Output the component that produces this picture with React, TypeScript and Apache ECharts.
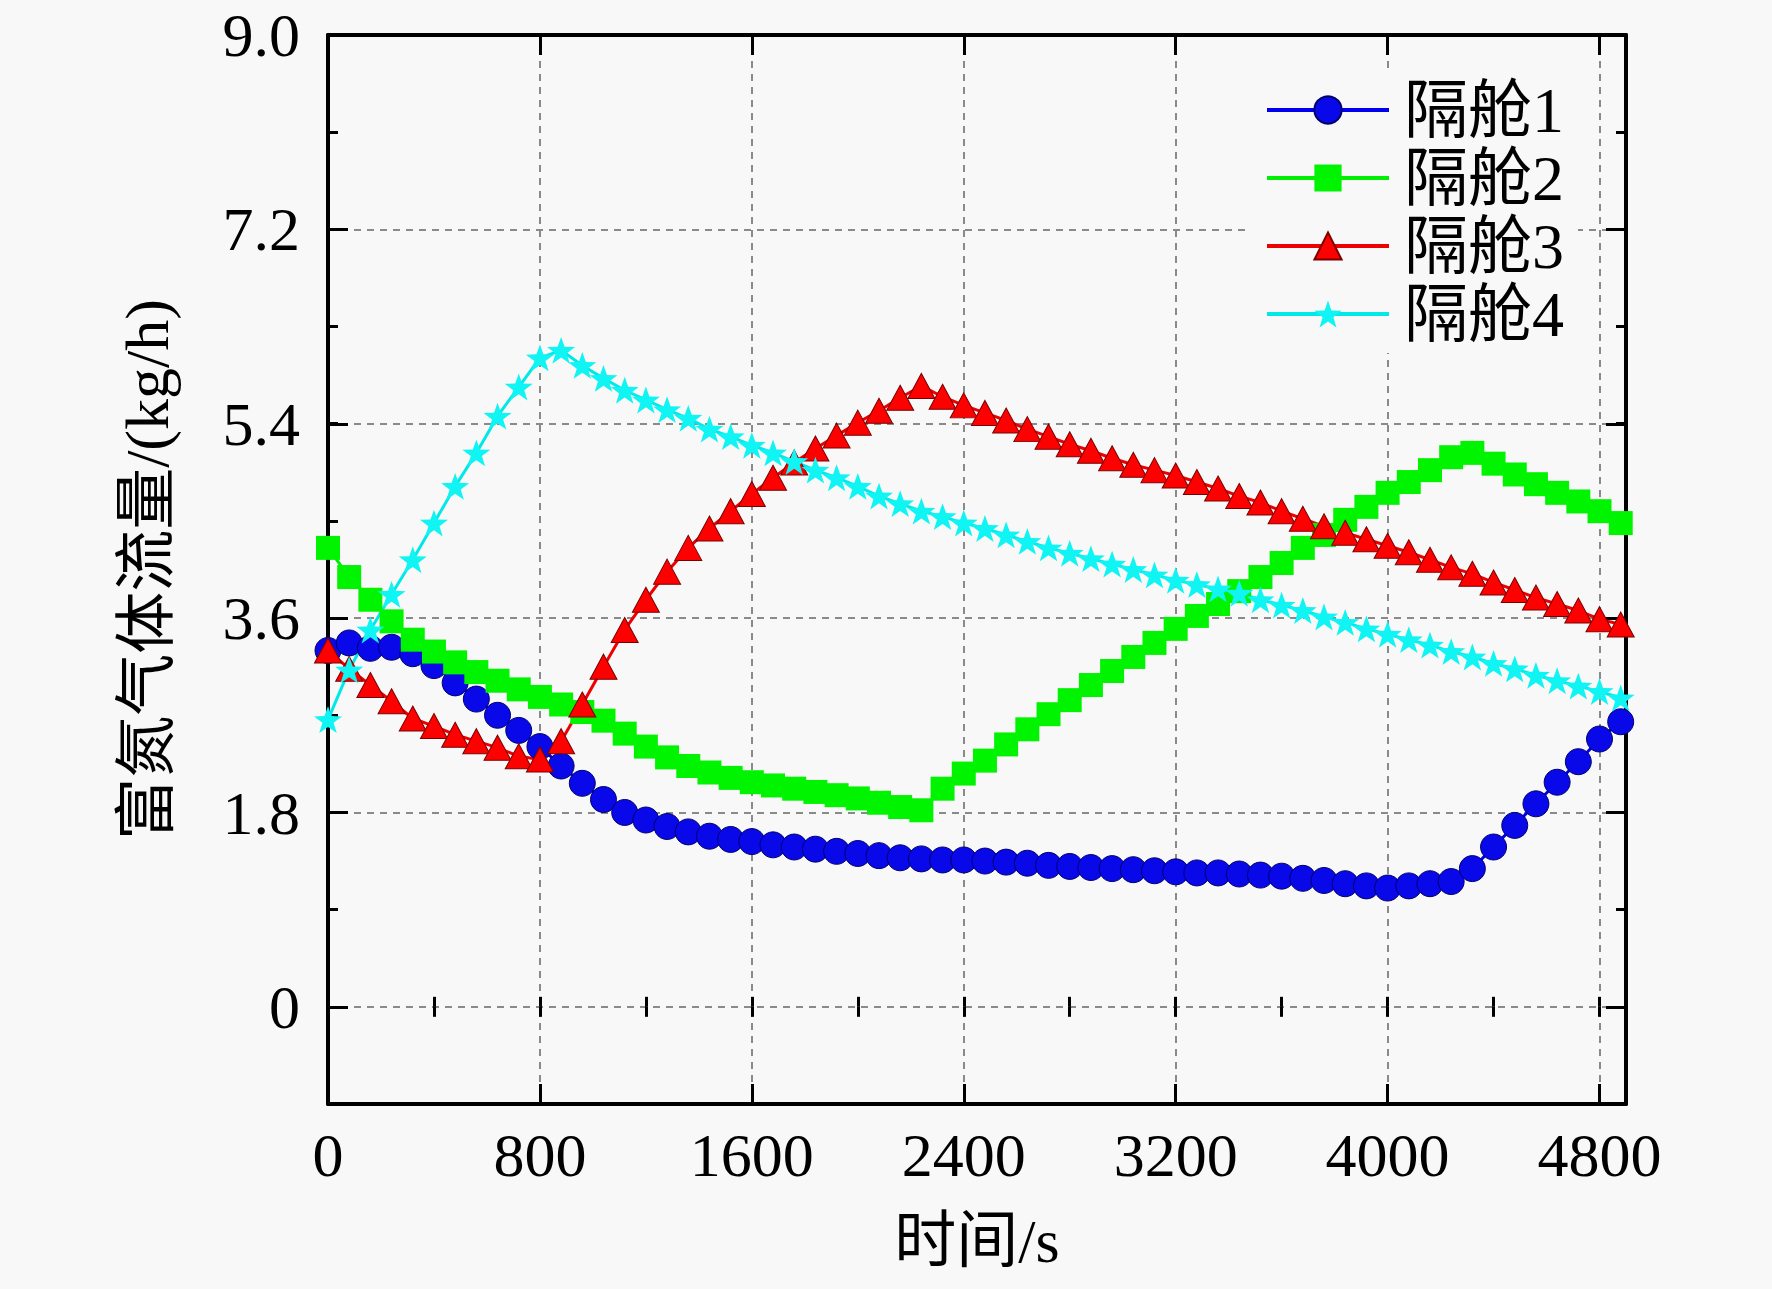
import React, { useEffect, useRef } from "react";
import * as echarts from "echarts";

// sample times (s) and the four compartment flows (kg/h)
const times = [
  0, 80, 160, 240, 320, 400, 480, 560, 640, 720, 800, 880, 960, 1040, 1120, 1200,
  1280, 1360, 1440, 1520, 1600, 1680, 1760, 1840, 1920, 2000, 2080, 2160, 2240,
  2320, 2400, 2480, 2560, 2640, 2720, 2800, 2880, 2960, 3040, 3120, 3200, 3280,
  3360, 3440, 3520, 3600, 3680, 3760, 3840, 3920, 4000, 4080, 4160, 4240, 4320,
  4400, 4480, 4560, 4640, 4720, 4800, 4880,
];

const cabin1 = [
  3.30, 3.37, 3.32, 3.33, 3.27, 3.16, 3.00, 2.85, 2.70, 2.56, 2.41, 2.23, 2.07, 1.92,
  1.80, 1.73, 1.67, 1.62, 1.58, 1.55, 1.53, 1.50, 1.48, 1.46, 1.44, 1.42, 1.40, 1.38,
  1.37, 1.36, 1.36, 1.35, 1.34, 1.33, 1.31, 1.30, 1.29, 1.28, 1.27, 1.26, 1.25, 1.24,
  1.24, 1.23, 1.22, 1.21, 1.19, 1.17, 1.14, 1.12, 1.10, 1.12, 1.14, 1.16, 1.28, 1.48,
  1.68, 1.88, 2.08, 2.27, 2.48, 2.64,
];

const cabin2 = [
  4.25, 3.98, 3.77, 3.57, 3.40, 3.29, 3.19, 3.10, 3.02, 2.94, 2.87, 2.80, 2.73, 2.65,
  2.53, 2.41, 2.31, 2.23, 2.17, 2.12, 2.08, 2.05, 2.02, 1.99, 1.96, 1.93, 1.89, 1.85,
  1.82, 2.02, 2.16, 2.28, 2.43, 2.57, 2.71, 2.84, 2.98, 3.11, 3.24, 3.37, 3.50, 3.62,
  3.73, 3.85, 3.98, 4.11, 4.25, 4.37, 4.51, 4.63, 4.76, 4.86, 4.97, 5.09, 5.13, 5.03,
  4.93, 4.84, 4.76, 4.68, 4.59, 4.48,
];

const cabin3 = [
  3.30, 3.13, 2.98, 2.83, 2.67, 2.60, 2.52, 2.46, 2.40, 2.32, 2.29, 2.46, 2.80, 3.15,
  3.49, 3.77, 4.03, 4.25, 4.43, 4.59, 4.75, 4.90, 5.04, 5.17, 5.29, 5.41, 5.52, 5.64,
  5.75, 5.65, 5.57, 5.50, 5.43, 5.35, 5.28, 5.21, 5.15, 5.08, 5.02, 4.97, 4.92, 4.86,
  4.80, 4.73, 4.67, 4.59, 4.52, 4.45, 4.39, 4.33, 4.27, 4.21, 4.14, 4.07, 4.01, 3.93,
  3.86, 3.79, 3.73, 3.67, 3.59, 3.54,
];

const cabin4 = [
  2.66, 3.12, 3.49, 3.82, 4.14, 4.48, 4.82, 5.13, 5.47, 5.74, 6.01, 6.08, 5.94, 5.82,
  5.71, 5.62, 5.53, 5.45, 5.35, 5.28, 5.20, 5.13, 5.05, 4.97, 4.90, 4.82, 4.73, 4.66,
  4.59, 4.54, 4.48, 4.43, 4.37, 4.31, 4.25, 4.20, 4.15, 4.10, 4.05, 4.00, 3.95, 3.91,
  3.87, 3.83, 3.77, 3.72, 3.67, 3.61, 3.56, 3.50, 3.45, 3.40, 3.35, 3.29, 3.24, 3.18,
  3.13, 3.07, 3.02, 2.97, 2.92, 2.86,
];

const seriesNames = ["隔舱1", "隔舱2", "隔舱3", "隔舱4"];

const FONT = "'Liberation Serif', 'Times New Roman', 'Noto Sans CJK SC', serif";
const BG = "#f8f8f8";
const STAR =
  "path://M50,0 L62,34 L98,35 L69,57 L80,92 L50,71 L20,92 L31,57 L2,35 L38,34 Z";

const App: React.FC = () => {
  const chartRef = useRef<HTMLDivElement>(null);

  useEffect(() => {
    if (!chartRef.current) return;
    const chart = echarts.init(chartRef.current, null, { renderer: "svg" });

    const pairs = (vals: number[]) => times.map((t, i) => [t, vals[i]]);
    const black = { color: "#000", width: 4 };
    const tick = (len: number) => ({
      show: true,
      inside: true,
      length: len,
      lineStyle: { color: "#000", width: 3 },
    });
    const dashed = { color: "#8a8a8a", width: 2, type: [7, 6] as number[] };

    chart.setOption({
      animation: false,
      backgroundColor: BG,
      grid: [
        { left: 328, right: 146, top: 35, bottom: 185, containLabel: false },
        // same frame, but spanning 0..9.0 only, for the labelled ticks
        { left: 328, right: 146, top: 35, bottom: 282, containLabel: false },
      ],
      xAxis: [
        {
          gridIndex: 0,
          type: "value",
          position: "bottom",
          min: 0,
          max: 4900,
          interval: 800,
          axisLine: { show: true, onZero: false, lineStyle: black },
          axisTick: tick(20),
          axisLabel: {
            margin: 20,
            fontSize: 62,
            fontFamily: FONT,
            color: "#000",
            formatter: (v: number) => (v % 800 === 0 ? String(v) : ""),
          },
          splitLine: { show: true, showMinLine: false, showMaxLine: false, lineStyle: dashed },
          name: "时间/s",
          nameLocation: "middle",
          nameGap: 106,
          nameTextStyle: { fontSize: 62, fontFamily: FONT, color: "#000" },
        },
        {
          gridIndex: 0,
          type: "value",
          position: "bottom",
          min: 0,
          max: 4900,
          interval: 400,
          axisLine: { show: false },
          axisTick: tick(10),
          axisLabel: { show: false },
          splitLine: { show: false },
        },
        {
          gridIndex: 0,
          type: "value",
          position: "top",
          min: 0,
          max: 4900,
          interval: 800,
          axisLine: { show: true, onZero: false, lineStyle: black },
          axisTick: tick(20),
          axisLabel: { show: false },
          splitLine: { show: false },
        },
        {
          gridIndex: 0,
          type: "value",
          position: "top",
          min: 0,
          max: 4900,
          interval: 400,
          axisLine: { show: false },
          axisTick: tick(10),
          axisLabel: { show: false },
          splitLine: { show: false },
        },
        {
          gridIndex: 1,
          type: "value",
          position: "top",
          min: 0,
          max: 4900,
          show: false,
        },
      ],
      yAxis: [
        {
          gridIndex: 0,
          type: "value",
          position: "left",
          min: -0.9,
          max: 9,
          interval: 0.9,
          axisLine: { show: true, onZero: false, lineStyle: black },
          axisTick: tick(10),
          axisLabel: { show: false },
          splitLine: { show: false },
          name: "富氮气体流量/(kg/h)",
          nameLocation: "middle",
          nameRotate: 90,
          nameGap: 150,
          nameTextStyle: { fontSize: 62, fontFamily: FONT, color: "#000" },
        },
        {
          gridIndex: 0,
          type: "value",
          position: "right",
          min: -0.9,
          max: 9,
          interval: 0.9,
          axisLine: { show: true, onZero: false, lineStyle: black },
          axisTick: tick(10),
          axisLabel: { show: false },
          splitLine: { show: false },
        },
        {
          gridIndex: 1,
          type: "value",
          position: "left",
          min: 0,
          max: 9,
          interval: 1.8,
          axisLine: { show: false },
          axisTick: tick(20),
          axisLabel: {
            margin: 28,
            fontSize: 62,
            fontFamily: FONT,
            color: "#000",
            formatter: (v: number) => (v === 0 ? "0" : v.toFixed(1)),
          },
          splitLine: { show: true, lineStyle: dashed },
        },
        {
          gridIndex: 1,
          type: "value",
          position: "right",
          min: 0,
          max: 9,
          interval: 1.8,
          axisLine: { show: false },
          axisTick: tick(20),
          axisLabel: { show: false },
          splitLine: { show: false },
        },
      ],
      legend: {
        data: seriesNames,
        orient: "vertical",
        left: 1251,
        top: 71,
        itemWidth: 122,
        itemHeight: 34,
        itemGap: 0,
        padding: [5, 14, 5, 14],
        backgroundColor: BG,
        lineStyle: { width: 4 },
        textStyle: {
          fontSize: 64,
          lineHeight: 68,
          fontFamily: FONT,
          color: "#000",
          padding: [0, 0, 0, 10],
        },
      },
      series: [
        {
          name: seriesNames[0],
          type: "line",
          xAxisIndex: 0,
          yAxisIndex: 0,
          data: pairs(cabin1),
          symbol: "circle",
          symbolSize: 26,
          lineStyle: { color: "#0000ee", width: 3 },
          itemStyle: { color: "#0808e8", borderColor: "#00006e", borderWidth: 1 },
        },
        {
          name: seriesNames[1],
          type: "line",
          xAxisIndex: 0,
          yAxisIndex: 0,
          data: pairs(cabin2),
          symbol: "rect",
          symbolSize: 24,
          lineStyle: { color: "#00ee00", width: 3 },
          itemStyle: { color: "#00f400" },
        },
        {
          name: seriesNames[2],
          type: "line",
          xAxisIndex: 0,
          yAxisIndex: 0,
          data: pairs(cabin3),
          symbol: "triangle",
          symbolSize: [27, 25],
          lineStyle: { color: "#ee0000", width: 3 },
          itemStyle: { color: "#ff0000", borderColor: "#7a0000", borderWidth: 1 },
        },
        {
          name: seriesNames[3],
          type: "line",
          xAxisIndex: 0,
          yAxisIndex: 0,
          data: pairs(cabin4),
          symbol: STAR,
          symbolKeepAspect: true,
          symbolSize: 28,
          lineStyle: { color: "#00e8e8", width: 3 },
          itemStyle: { color: "#10f4f4" },
        },
      ],
    });

    return () => {
      chart.dispose();
    };
  }, []);

  return (
    <div
      style={{
        position: "fixed",
        left: 0,
        top: 0,
        width: 1772,
        height: 1289,
        background: BG,
      }}
    >
      <div ref={chartRef} style={{ width: 1772, height: 1289 }} />
    </div>
  );
};

export default App;
